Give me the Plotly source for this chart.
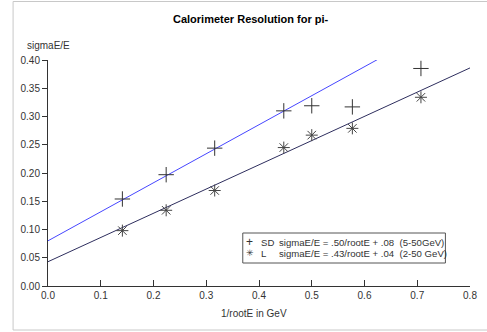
import plotly.graph_objects as go

# 1/sqrt(E) positions of the measured energies
x_sd = [0.141, 0.224, 0.316, 0.447, 0.500, 0.577, 0.707]
y_sd = [0.154, 0.197, 0.244, 0.310, 0.319, 0.317, 0.385]
x_l = [0.141, 0.224, 0.316, 0.447, 0.500, 0.577, 0.707]
y_l = [0.098, 0.134, 0.169, 0.245, 0.267, 0.279, 0.334]

# fitted lines (end points)
fit_sd_x = [0.0, 0.625]
fit_sd_y = [0.080, 0.401]
fit_l_x = [0.0, 0.8]
fit_l_y = [0.043, 0.386]

x_ticks = [0.0, 0.1, 0.2, 0.3, 0.4, 0.5, 0.6, 0.7, 0.8]
y_ticks = [0.00, 0.05, 0.10, 0.15, 0.20, 0.25, 0.30, 0.35, 0.40]

title = "Calorimeter Resolution for pi-"
x_title = "1/rootE in GeV"
y_title = "sigmaE/E"
leg_names = ["SD", "L"]
leg_texts = ["sigmaE/E = .50/rootE + .08  (5-50GeV)",
             "sigmaE/E = .43/rootE + .04  (2-50 GeV)"]

FONT = "Liberation Sans, Arial, sans-serif"
W, H = 487, 332
ML, MR, MT, MB = 48, 10, 60, 46
PW, PH = W - ML - MR, H - MT - MB


def px(xp):
    return (xp - ML) / PW


def py(yp):
    return (H - MB - yp) / PH


fig = go.Figure()
fig.add_trace(go.Scatter(x=fit_sd_x, y=fit_sd_y, mode="lines",
                         line=dict(color="#4646ff", width=1), showlegend=False, hoverinfo="skip"))
fig.add_trace(go.Scatter(x=fit_l_x, y=fit_l_y, mode="lines",
                         line=dict(color="#2e2e5e", width=1), showlegend=False, hoverinfo="skip"))
fig.add_trace(go.Scatter(x=x_sd, y=y_sd, mode="markers", name=leg_names[0],
                         marker=dict(symbol="cross-thin-open", size=11, color="#333333",
                                     line=dict(color="#333333", width=1)),
                         showlegend=False))
fig.add_trace(go.Scatter(x=x_l, y=y_l, mode="markers", name=leg_names[1],
                         marker=dict(symbol="asterisk-open", size=10, color="#444444",
                                     line=dict(color="#444444", width=1)),
                         showlegend=False))

ann = []
ann.append(dict(text="<b>" + title + "</b>", x=px(254), y=py(18.5), xref="paper", yref="paper",
                showarrow=False, font=dict(size=11, color="#000000", family=FONT),
                xanchor="center", yanchor="middle"))
ann.append(dict(text=y_title, x=px(25), y=py(45), xref="paper", yref="paper",
                showarrow=False, font=dict(size=10, color="#333333", family=FONT),
                xanchor="left", yanchor="middle"))
ann.append(dict(text=x_title, x=px(257), y=py(313), xref="paper", yref="paper",
                showarrow=False, font=dict(size=10, color="#333333", family=FONT),
                xanchor="center", yanchor="middle"))

# legend (drawn manually to match the original box layout)
glyphs = ["+", "✳"]
rows = [242, 253]
for g, n, t, r in zip(glyphs, leg_names, leg_texts, rows):
    ann.append(dict(text=g, x=px(253), y=py(r), xref="paper", yref="paper", showarrow=False,
                    font=dict(size=12 if g == "+" else 9, color="#333333", family=FONT),
                    xanchor="center", yanchor="middle"))
    ann.append(dict(text=n, x=px(262), y=py(r), xref="paper", yref="paper", showarrow=False,
                    font=dict(size=9.6, color="#333333", family=FONT),
                    xanchor="left", yanchor="middle"))
    ann.append(dict(text=t, x=px(281), y=py(r), xref="paper", yref="paper", showarrow=False,
                    font=dict(size=9.6, color="#333333", family=FONT),
                    xanchor="left", yanchor="middle"))

shapes = [
    dict(type="rect", xref="paper", yref="paper", x0=px(246), x1=px(452), y0=py(263), y1=py(233),
         line=dict(color="#555555", width=1), fillcolor="rgba(255,255,255,0)", layer="above"),
    dict(type="rect", xref="paper", yref="paper", x0=px(12.5), x1=px(495), y0=py(330), y1=py(1.5),
         line=dict(color="#c8c8c8", width=1), fillcolor="rgba(0,0,0,0)", layer="below"),
]

fig.update_layout(
    width=W, height=H,
    margin=dict(l=ML, r=MR, t=MT, b=MB, pad=0),
    paper_bgcolor="white", plot_bgcolor="white",
    annotations=ann, shapes=shapes,
    font=dict(family=FONT, size=10, color="#333333"),
    showlegend=False,
)
fig.update_xaxes(range=[0, 0.8], tickvals=x_ticks, ticktext=[f"{v:.1f}" for v in x_ticks],
                 showgrid=False, zeroline=False, showline=True, linecolor="#333333", linewidth=1,
                 ticks="inside", ticklen=6, tickcolor="#333333", tickwidth=1,
                 tickfont=dict(size=10, color="#333333", family=FONT))
fig.update_yaxes(range=[0, 0.4], tickvals=y_ticks, ticktext=[f"{v:.2f}" for v in y_ticks],
                 showgrid=False, zeroline=False, showline=True, linecolor="#333333", linewidth=1,
                 ticks="outside", ticklen=5, tickcolor="#333333", tickwidth=1,
                 tickfont=dict(size=10, color="#333333", family=FONT))

fig.write_html("out.html", config={"displayModeBar": False},
               post_script="document.body.style.margin='0px';document.body.style.overflow='hidden';")
